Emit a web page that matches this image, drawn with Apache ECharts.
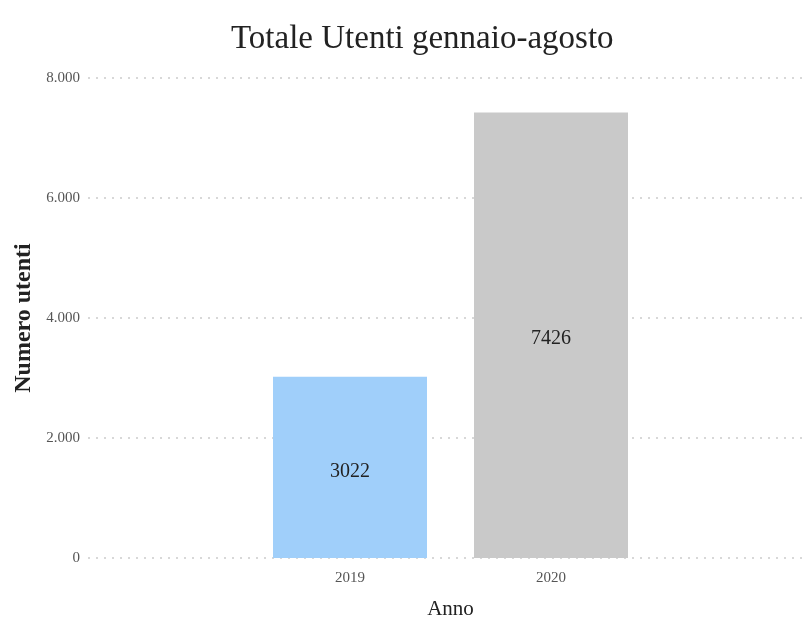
<!DOCTYPE html>
<html><head><meta charset="utf-8">
<script src="https://cdn.jsdelivr.net/npm/echarts@6/dist/echarts.min.js"></script>
<style>html,body{margin:0;padding:0;background:#fff}#c{width:805px;height:621px}</style>
</head><body><div id="c"></div>
<script>
const categories = ['2019', '2020'];
const values = [3022, 7426];
const barColors = ['#a0cffa', '#c9c9c9'];
const yTicks = [0, 2000, 4000, 6000, 8000];

const serif = '"Liberation Serif", "DejaVu Serif", serif';
const chart = echarts.init(document.getElementById('c'));
chart.setOption({
  animation: false,
  backgroundColor: '#fff',
  title: {
    text: 'Totale Utenti gennaio-agosto',
    left: 226, top: 18,
    textStyle: { fontFamily: serif, fontSize: 33, fontWeight: 'normal', color: '#222' }
  },
  grid: [
    { left: 88, right: 0, top: 78, bottom: 63, outerBoundsMode: 'none', containLabel: false },
    { left: 249.5, right: 153.5, top: 78, bottom: 63, outerBoundsMode: 'none', containLabel: false }
  ],
  xAxis: [
    { gridIndex: 0, type: 'category', data: categories, show: false },
    {
      gridIndex: 1, type: 'category', data: categories,
      axisLine: { show: false }, axisTick: { show: false },
      axisLabel: { fontFamily: serif, fontSize: 15, color: '#555', margin: 13 },
      name: 'Anno', nameLocation: 'middle', nameGap: 41,
      nameTextStyle: { fontFamily: serif, fontSize: 21, color: '#222' }
    }
  ],
  yAxis: [
    {
      gridIndex: 0, type: 'value', min: 0, max: 8000, interval: 2000,
      axisLine: { show: false }, axisTick: { show: false },
      axisLabel: {
        fontFamily: serif, fontSize: 15, color: '#555', margin: 8,
        formatter: v => yTicks.includes(v) ? (v === 0 ? '0' : v.toLocaleString('it-IT').replace(/\u00a0/g,'')) : ''
      },
      splitLine: { lineStyle: { type: [2, 6], color: '#cccccc', width: 1.5 } },
      name: 'Numero utenti', nameLocation: 'middle', nameGap: 52,
      nameTextStyle: { fontFamily: serif, fontSize: 24, fontWeight: 'bold', color: '#222' }
    },
    { gridIndex: 1, type: 'value', min: 0, max: 8000, interval: 2000, show: false, splitLine: { show: false } }
  ],
  series: [{
    type: 'bar', xAxisIndex: 1, yAxisIndex: 1,
    barWidth: 154,
    data: values.map((v, i) => ({ value: v, itemStyle: { color: barColors[i] } })),
    label: {
      show: true, position: 'inside', offset: [0, 4],
      fontFamily: serif, fontSize: 20, color: '#222'
    }
  }]
});
</script></body></html>
